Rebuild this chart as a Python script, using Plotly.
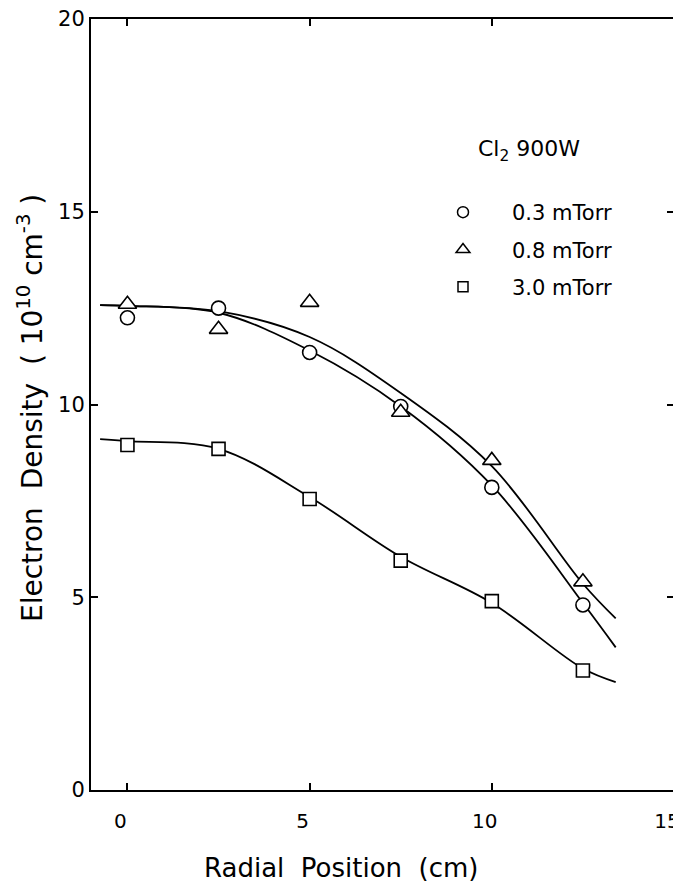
import plotly.graph_objects as go

# ---- data ----
radial_pos = [0, 2.5, 5, 7.5, 10, 12.5]
dens_03 = [12.25, 12.5, 11.35, 9.95, 7.85, 4.8]
dens_08 = [12.6, 11.95, 12.65, 9.8, 8.55, 5.4]
dens_30 = [8.95, 8.85, 7.55, 5.95, 4.9, 3.1]

# fitted curves
curve_x = [-0.75, 0, 2.5, 5, 7.5, 10, 12.5, 13.4]
curve_03 = [12.58, 12.56, 12.38, 11.4, 9.95, 7.9, 4.85, 3.7]
curve_08 = [12.58, 12.56, 12.42, 11.75, 10.3, 8.4, 5.35, 4.45]
curve_30 = [9.1, 9.05, 8.85, 7.6, 6.05, 4.85, 3.15, 2.8]

legend_labels = ["0.3 mTorr", "0.8 mTorr", "3.0 mTorr"]
x_ticks = [0, 5, 10, 15]
y_ticks = [0, 5, 10, 15, 20]

FONT = "'DejaVu Sans', sans-serif"

# page body adds an 8px offset; plot area in screen px: x 91..674, y 19..790
PL, PR, PT, PB = 91, 674, 19, 790
PW, PH = PR - PL, PB - PT


def px(sx):
    return (sx - PL) / PW


def py(sy):
    return 1 - (sy - PT) / PH


fig = go.Figure()

for cy in (curve_03, curve_08, curve_30):
    fig.add_trace(go.Scatter(
        x=curve_x, y=cy, mode="lines", showlegend=False,
        line=dict(color="black", width=1.8, shape="spline", smoothing=1.0),
        hoverinfo="skip"))

series = [
    (dens_03, "circle", legend_labels[0], 14, 11),
    (dens_08, "triangle-up", legend_labels[1], 16, 12),
    (dens_30, "square", legend_labels[2], 13, 10),
]
for i, (vals, sym, name, size, lsize) in enumerate(series):
    fig.add_trace(go.Scatter(
        x=radial_pos, y=vals, mode="markers", name=name, showlegend=False,
        marker=dict(symbol=sym, size=size, color="white",
                    line=dict(color="black", width=1.6))))
    fig.add_trace(go.Scatter(
        x=[None], y=[None], mode="markers", name=name,
        legendgroup=f"g{i}",
        marker=dict(symbol=sym, size=lsize, color="white",
                    line=dict(color="black", width=1.5))))

fig.add_annotation(text="Cl<sub>2</sub> 900W", xref="paper", yref="paper",
                   x=px(476), y=py(150),
                   xanchor="left", yanchor="middle", showarrow=False,
                   font=dict(family=FONT, size=22, color="black"))

fig.add_annotation(text="Radial  Position  (cm)", xref="paper", yref="paper",
                   x=px(341), y=py(868),
                   xanchor="center", yanchor="middle", showarrow=False,
                   font=dict(family=FONT, size=26, color="black"))

fig.add_annotation(text="Electron  Density  ( 10<sup>10</sup> cm<sup>-3</sup> )",
                   xref="paper", yref="paper",
                   x=px(30), y=py(408),
                   xanchor="center", yanchor="middle", textangle=-90,
                   showarrow=False,
                   font=dict(family=FONT, size=28, color="black"))

axis_common = dict(showline=True, linecolor="black", linewidth=2,
                   mirror="allticks", ticks="inside", ticklen=7,
                   tickwidth=1.5, tickcolor="black", showgrid=False,
                   zeroline=False, ticklabeloverflow="allow")

fig.update_xaxes(range=[-1, 15], tickvals=x_ticks,
                 ticktext=[str(v) for v in x_ticks],
                 ticklabelstandoff=12, ticklabelshift=-7,
                 tickfont=dict(family=FONT, size=20, color="black"),
                 **axis_common)
fig.update_yaxes(range=[0, 20], tickvals=y_ticks,
                 ticktext=[str(v) for v in y_ticks],
                 tickfont=dict(family=FONT, size=21, color="black"),
                 **axis_common)

fig.update_layout(
    width=673, height=882,
    margin=dict(l=PL - 8, r=673 - (PR - 8), t=PT - 8, b=882 - (PB - 8),
                autoexpand=False),
    plot_bgcolor="white", paper_bgcolor="white",
    legend=dict(x=px(463 - 49), y=py(212 - 20),
                xanchor="left", yanchor="top", itemwidth=88,
                font=dict(family=FONT, size=21, color="black"),
                tracegroupgap=7, bgcolor="rgba(0,0,0,0)"),
    font=dict(family=FONT, color="black"),
)

fig.write_html("out.html")
